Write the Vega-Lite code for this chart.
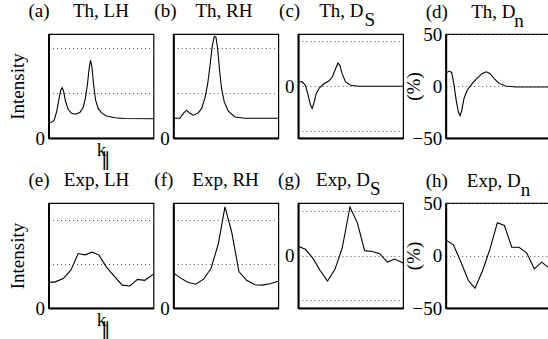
{
  "$schema": "https://vega.github.io/schema/vega-lite/v6.json",
  "padding": {"left": 6.5, "top": 1, "right": 0, "bottom": 0},
  "datasets": {
    "a": [{"x":0,"y":0.35},{"x":2.9,"y":0.35},{"x":5.4,"y":0.4},{"x":7.9,"y":0.6},{"x":9.8,"y":0.85},{"x":11.7,"y":1.07},{"x":13,"y":1.12},{"x":14.3,"y":1.05},{"x":16.2,"y":0.82},{"x":18.7,"y":0.64},{"x":21.9,"y":0.55},{"x":25.7,"y":0.53},{"x":29.8,"y":0.57},{"x":33,"y":0.68},{"x":35.2,"y":0.9},{"x":37.1,"y":1.2},{"x":38.7,"y":1.55},{"x":40,"y":1.73},{"x":41.3,"y":1.6},{"x":42.9,"y":1.2},{"x":44.8,"y":0.85},{"x":47.3,"y":0.66},{"x":50.5,"y":0.56},{"x":55.2,"y":0.49},{"x":63.2,"y":0.45},{"x":72.7,"y":0.435},{"x":100,"y":0.43}],
    "b": [{"x":0,"y":0.44},{"x":6.3,"y":0.44},{"x":9.5,"y":0.55},{"x":12.7,"y":0.62},{"x":15.9,"y":0.55},{"x":19,"y":0.51},{"x":23.8,"y":0.56},{"x":27,"y":0.66},{"x":30.2,"y":0.9},{"x":32.7,"y":1.2},{"x":34.9,"y":1.6},{"x":37.1,"y":2.05},{"x":39,"y":2.27},{"x":40.6,"y":2.25},{"x":42.2,"y":2.0},{"x":44.1,"y":1.5},{"x":46,"y":1.1},{"x":48.6,"y":0.8},{"x":52.4,"y":0.6},{"x":58.7,"y":0.47},{"x":68.3,"y":0.44},{"x":100,"y":0.44}],
    "c": [{"x":0,"y":0.089},{"x":3.8,"y":0.1},{"x":7,"y":0.015},{"x":9.6,"y":-0.21},{"x":11.8,"y":-0.43},{"x":13.4,"y":-0.5},{"x":15,"y":-0.39},{"x":17.2,"y":-0.17},{"x":20.4,"y":-0.04},{"x":24.5,"y":0.05},{"x":29.3,"y":0.11},{"x":32.5,"y":0.2},{"x":35.7,"y":0.385},{"x":37.9,"y":0.51},{"x":39.8,"y":0.46},{"x":42,"y":0.27},{"x":45.2,"y":0.09},{"x":50,"y":0.015},{"x":58,"y":-0.007},{"x":100,"y":-0.007}],
    "d": [{"x":0,"y":12.1},{"x":3.2,"y":14.3},{"x":5.7,"y":13},{"x":7.9,"y":1},{"x":10.2,"y":-15},{"x":12.1,"y":-25},{"x":13.7,"y":-28.6},{"x":15.2,"y":-23.8},{"x":17.5,"y":-11.7},{"x":20.6,"y":-3.8},{"x":25.4,"y":2.5},{"x":30.2,"y":7.9},{"x":34.9,"y":12.1},{"x":38.7,"y":13.7},{"x":41.9,"y":12.1},{"x":46,"y":7.3},{"x":50.8,"y":2.5},{"x":57.1,"y":0},{"x":66.7,"y":-1},{"x":100,"y":-1}],
    "e": [{"x":0,"y":0.59},{"x":6,"y":0.59},{"x":14,"y":0.67},{"x":21.3,"y":0.86},{"x":28.3,"y":1.24},{"x":34.6,"y":1.21},{"x":41.6,"y":1.27},{"x":47.9,"y":1.21},{"x":55.2,"y":0.93},{"x":63.2,"y":0.71},{"x":70.2,"y":0.52},{"x":77.5,"y":0.5},{"x":84.8,"y":0.65},{"x":91.7,"y":0.63},{"x":100,"y":0.77}],
    "f": [{"x":0,"y":0.8},{"x":7,"y":0.68},{"x":14.3,"y":0.58},{"x":21.3,"y":0.54},{"x":28.6,"y":0.65},{"x":35.9,"y":0.9},{"x":42.9,"y":1.46},{"x":49.2,"y":2.3},{"x":55.6,"y":1.73},{"x":62.5,"y":0.83},{"x":69.8,"y":0.63},{"x":77.8,"y":0.53},{"x":84.8,"y":0.52},{"x":92.1,"y":0.55},{"x":100,"y":0.61}],
    "g": [{"x":0,"y":0.21},{"x":7,"y":0.14},{"x":14,"y":-0.06},{"x":21,"y":-0.34},{"x":28,"y":-0.58},{"x":35,"y":-0.32},{"x":42,"y":0.17},{"x":49.4,"y":1.1},{"x":56.4,"y":0.74},{"x":63.4,"y":0.11},{"x":70.7,"y":0.09},{"x":77.7,"y":0.04},{"x":85,"y":-0.15},{"x":92,"y":-0.08},{"x":100,"y":-0.17}],
    "h": [{"x":0,"y":14.9},{"x":7.3,"y":10.2},{"x":14.3,"y":-5.7},{"x":21.6,"y":-23.8},{"x":27.9,"y":-31.1},{"x":35.2,"y":-14.3},{"x":42.2,"y":6.3},{"x":49.2,"y":31.1},{"x":55.9,"y":28.6},{"x":62.9,"y":7.9},{"x":69.8,"y":7.9},{"x":77.1,"y":2.5},{"x":84.4,"y":-12.7},{"x":91.4,"y":-6.3},{"x":98.7,"y":-12.1},{"x":100,"y":-12.5}],
    "empty": []
  },
  "columns": 5,
  "bounds": "flush",
  "spacing": {"row": 65, "column": 19.8},
  "concat": [
    {
      "width": 105, "height": 104,
      "title": {"text": ["(a)\u2003 Th, LH", "\u2060"], "dx": -20},
      "data": {"name": "a"},
      "mark": {"type": "line"},
      "encoding": {
        "x": {"field": "x", "type": "quantitative", "scale": {"domain": [0, 100], "nice": false, "zero": false}, "axis": {"labels": false, "grid": false, "title": ["k\u2002", "\u2060\u2002\u2225"], "titlePadding": 2, "titleLineHeight": 10}},
        "y": {"field": "y", "type": "quantitative", "scale": {"domain": [0, 2.32], "nice": false}, "axis": {"values": [0, 1, 2], "labelExpr": "datum.value == 0 ? '0' : ''", "grid": true, "title": "Intensity", "titlePadding": 8, "minExtent": 13.5, "maxExtent": 13.5}}
      }
    },
    {
      "width": 105, "height": 104,
      "title": {"text": ["(b)\u2003Th, RH", "\u2060"], "dx": -19},
      "data": {"name": "b"},
      "mark": {"type": "line"},
      "encoding": {
        "x": {"field": "x", "type": "quantitative", "scale": {"domain": [0, 100], "nice": false, "zero": false}, "axis": {"labels": false, "grid": false, "title": null}},
        "y": {"field": "y", "type": "quantitative", "scale": {"domain": [0, 2.32], "nice": false}, "axis": {"values": [0, 1, 2], "labelExpr": "datum.value == 0 ? '0' : ''", "grid": true, "title": null}}
      }
    },
    {
      "width": 105, "height": 104,
      "title": {"text": ["(c)\u2003Th, D", "\u2060\u2003\u2003\u2003\u2003\u2002S"], "dx": -19},
      "data": {"name": "c"},
      "mark": {"type": "line"},
      "encoding": {
        "x": {"field": "x", "type": "quantitative", "scale": {"domain": [0, 100], "nice": false, "zero": false}, "axis": {"labels": false, "grid": false, "title": null}},
        "y": {"field": "y", "type": "quantitative", "scale": {"domain": [-1.16, 1.16], "nice": false}, "axis": {"values": [-1, 0, 1], "labelExpr": "datum.value == 0 ? '0' : ''", "grid": true, "title": null}}
      }
    },
    {
      "width": 2.8, "height": 104,
      "data": {"name": "empty"},
      "mark": {"type": "point"},
      "view": {"stroke": null}
    },
    {
      "width": 105, "height": 104,
      "title": {"text": ["(d)\u2003 Th, D", "\u2060\u2003\u2003\u2003\u2003\u2002\u2006n"], "dx": -20, "dy": 10},
      "data": {"name": "d"},
      "mark": {"type": "line"},
      "encoding": {
        "x": {"field": "x", "type": "quantitative", "scale": {"domain": [0, 100], "nice": false, "zero": false}, "axis": {"labels": false, "grid": false, "title": null}},
        "y": {"field": "y", "type": "quantitative", "scale": {"domain": [-50, 50], "nice": false}, "axis": {"values": [-50, 0, 50], "grid": true, "title": "(%)", "titlePadding": 4, "minExtent": 18, "maxExtent": 18}}
      }
    },
    {
      "width": 105, "height": 105,
      "title": {"text": ["(e)\u2002\u2005Exp, LH", "\u2060"], "dx": -20},
      "data": {"name": "e"},
      "mark": {"type": "line"},
      "encoding": {
        "x": {"field": "x", "type": "quantitative", "scale": {"domain": [0, 100], "nice": false, "zero": false}, "axis": {"labels": false, "grid": false, "title": ["k\u2002", "\u2060\u2002\u2225"], "titlePadding": 2, "titleLineHeight": 10}},
        "y": {"field": "y", "type": "quantitative", "scale": {"domain": [0, 2.39], "nice": false}, "axis": {"values": [0, 1, 2], "labelExpr": "datum.value == 0 ? '0' : ''", "grid": true, "title": "Intensity", "titlePadding": 8, "minExtent": 13.5, "maxExtent": 13.5}}
      }
    },
    {
      "width": 105, "height": 105,
      "title": {"text": ["(f)\u2003Exp, RH", "\u2060"], "dx": -19},
      "data": {"name": "f"},
      "mark": {"type": "line"},
      "encoding": {
        "x": {"field": "x", "type": "quantitative", "scale": {"domain": [0, 100], "nice": false, "zero": false}, "axis": {"labels": false, "grid": false, "title": null}},
        "y": {"field": "y", "type": "quantitative", "scale": {"domain": [0, 2.39], "nice": false}, "axis": {"values": [0, 1, 2], "labelExpr": "datum.value == 0 ? '0' : ''", "grid": true, "title": null}}
      }
    },
    {
      "width": 105, "height": 105,
      "title": {"text": ["(g)\u2002\u2004Exp, D", "\u2060\u2003\u2003\u2003\u2003\u2002\u2004S"], "dx": -20},
      "data": {"name": "g"},
      "mark": {"type": "line"},
      "encoding": {
        "x": {"field": "x", "type": "quantitative", "scale": {"domain": [0, 100], "nice": false, "zero": false}, "axis": {"labels": false, "grid": false, "title": null}},
        "y": {"field": "y", "type": "quantitative", "scale": {"domain": [-1.19, 1.19], "nice": false}, "axis": {"values": [-1, 0, 1], "labelExpr": "datum.value == 0 ? '0' : ''", "grid": true, "title": null}}
      }
    },
    {
      "width": 2.8, "height": 105,
      "data": {"name": "empty"},
      "mark": {"type": "point"},
      "view": {"stroke": null}
    },
    {
      "width": 105, "height": 105,
      "title": {"text": ["(h)\u2002\u2002Exp, D", "\u2060\u2003\u2003\u2003\u2003\u2003n"], "dx": -20, "dy": 10},
      "data": {"name": "h"},
      "mark": {"type": "line"},
      "encoding": {
        "x": {"field": "x", "type": "quantitative", "scale": {"domain": [0, 100], "nice": false, "zero": false}, "axis": {"labels": false, "grid": false, "title": null}},
        "y": {"field": "y", "type": "quantitative", "scale": {"domain": [-50, 50], "nice": false}, "axis": {"values": [-50, 0, 50], "grid": true, "title": "(%)", "titlePadding": 4, "minExtent": 18, "maxExtent": 18}}
      }
    }
  ],
  "config": {
    "font": "Liberation Serif",
    "view": {"stroke": "black", "strokeWidth": 1.2},
    "axis": {"labelFont": "Liberation Serif", "labelFontSize": 19, "labelColor": "black", "titleFont": "Liberation Serif", "titleFontSize": 19, "titleFontWeight": "normal", "titleColor": "black", "domainColor": "black", "domainWidth": 2, "ticks": false, "gridColor": "#555555", "gridDash": [1, 3], "gridWidth": 1, "labelPadding": 4},
    "title": {"font": "Liberation Serif", "fontSize": 19, "fontWeight": "normal", "color": "black", "anchor": "start", "frame": "group", "lineHeight": 9, "offset": 4},
    "line": {"color": "black", "strokeWidth": 1.1}
  }
}
